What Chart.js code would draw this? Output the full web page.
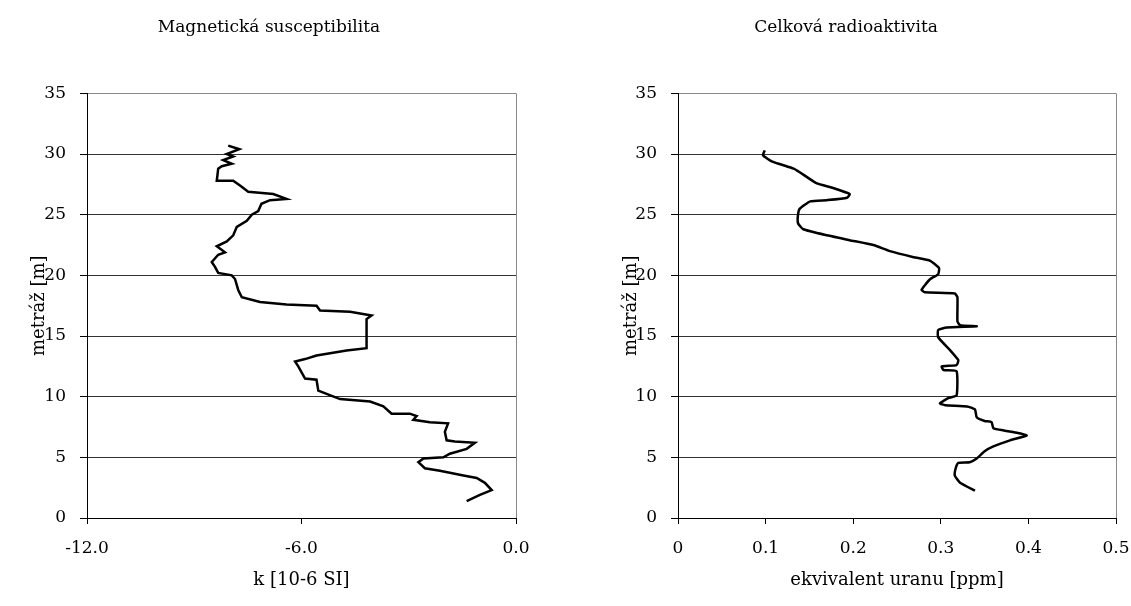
<!DOCTYPE html>
<html>
<head>
<meta charset="utf-8">
<script src="https://cdn.jsdelivr.net/npm/chart.js@4/dist/chart.umd.min.js"></script>
<style>
    html, body { margin: 0; padding: 0; background: #fff; }
    #wrap { position: relative; width: 1131px; height: 606px; }
    canvas { position: absolute; top: 0; }
    #mag-chart { left: 22px; }
    #rad-chart { left: 576px; }
</style>
</head>
<body>
<div id="wrap">
    <canvas id="mag-chart" width="516" height="606"></canvas>
    <canvas id="rad-chart" width="555" height="606"></canvas>
</div>
<script>
// Magnetic susceptibility profile
const magDepth = [1.4, 1.9, 2.3, 2.9, 3.3, 3.5, 3.9, 4.1, 4.6, 4.9, 5.0, 5.3, 5.7, 6.2, 6.3, 6.4, 7.1, 7.8, 7.9, 8.1,
    8.4, 8.6, 8.6, 9.2, 9.6, 9.8, 10.0, 10.5, 11.4, 11.5, 12.5, 12.9, 13.1, 13.4, 13.8, 14.0, 16.4, 16.7, 17.0, 17.1,
    17.5, 17.6, 17.8, 18.2, 18.8, 19.7, 20.0, 20.2, 20.7, 21.1, 21.7, 21.9, 22.4, 22.8, 23.3, 24.0, 24.5, 25.0, 25.3, 25.9,
    26.2, 26.3, 26.7, 26.9, 27.4, 27.8, 27.8, 28.8, 29.0, 29.2, 29.5, 29.8, 30.0, 30.4, 30.7];
const magK = [-1.38, -1.01, -0.68, -0.87, -1.10, -1.47, -2.13, -2.55, -2.73, -2.59, -2.03, -1.85, -1.38, -1.15, -1.71, -1.94, -1.99, -1.90, -2.41, -2.87,
    -2.78, -2.97, -3.48, -3.71, -4.08, -4.92, -5.10, -5.53, -5.58, -5.90, -6.09, -6.18, -5.90, -5.58, -4.74, -4.18, -4.18, -4.04, -4.64, -5.48,
    -5.58, -6.42, -7.16, -7.67, -7.77, -7.86, -7.95, -8.33, -8.42, -8.51, -8.33, -8.14, -8.37, -8.09, -7.91, -7.81, -7.53, -7.39, -7.21, -7.12,
    -6.88, -6.42, -6.79, -7.49, -7.72, -7.91, -8.37, -8.33, -8.23, -7.95, -8.19, -7.91, -8.09, -7.74, -8.05];

// Total radioactivity profile
const radDepth = [2.25, 2.9, 3.5, 4.1, 4.55, 4.6, 4.9, 5.5, 5.9, 6.4, 6.8, 7.0, 7.2, 7.4, 7.9, 8.0, 8.3, 8.95, 9.2, 9.3,
    9.45, 9.9, 10.1, 12.1, 12.2, 12.5, 12.6, 13.0, 13.8, 14.9, 15.5, 15.7, 15.8, 15.9, 16.2, 18.2, 18.5, 18.6, 18.8, 19.3,
    19.7, 20.1, 20.6, 21.2, 21.5, 22.0, 22.5, 22.9, 23.3, 23.8, 24.3, 25.0, 25.5, 26.1, 26.2, 26.4, 26.7, 27.2, 27.6, 28.5,
    28.8, 29.4, 29.9, 30.3];
const radU = [0.339, 0.322, 0.316, 0.317, 0.320, 0.333, 0.341, 0.350, 0.360, 0.379, 0.398, 0.388, 0.373, 0.360, 0.358, 0.350, 0.341, 0.339, 0.330, 0.305,
    0.299, 0.309, 0.318, 0.318, 0.303, 0.301, 0.318, 0.320, 0.311, 0.297, 0.297, 0.307, 0.341, 0.322, 0.319, 0.319, 0.316, 0.282, 0.278, 0.283,
    0.288, 0.297, 0.298, 0.288, 0.269, 0.242, 0.223, 0.196, 0.170, 0.143, 0.137, 0.137, 0.139, 0.151, 0.170, 0.193, 0.196, 0.177, 0.158, 0.139,
    0.132, 0.107, 0.097, 0.099];

const depthTicks = [0, 35, 5];
const magTicks = [-12, 0, 6];
const radTicks = [0, 0.5, 0.1];

const serif = 'DejaVu Serif';

const buildChart = (id, opts) => {
    const ctx = document.getElementById(id);
    if (!ctx || typeof Chart === 'undefined') return;
    const points = opts.depth.map((d, i) => ({ x: opts.values[i], y: d }));
    const [xMin, xMax, xStep] = opts.xTicks;
    const [yMin, yMax, yStep] = depthTicks;
    new Chart(ctx, {
        type: 'scatter',
        data: {
            datasets: [{
                data: points,
                showLine: true,
                borderColor: '#000',
                borderWidth: 2.5,
                pointRadius: 0,
                tension: opts.tension,
                fill: false,
            }],
        },
        options: {
            responsive: false,
            devicePixelRatio: 1,
            animation: false,
            layout: { autoPadding: false, padding: { right: opts.padRight, bottom: 0, left: 0, top: 0 } },
            plugins: {
                legend: { display: false },
                tooltip: { enabled: false },
                title: {
                    display: true,
                    text: opts.title,
                    color: '#000',
                    font: { family: serif, size: 17, weight: 'normal' },
                    padding: { top: 17, bottom: 56 },
                },
            },
            scales: {
                x: {
                    type: 'linear',
                    min: xMin,
                    max: xMax,
                    afterFit: (scale) => {
                        scale.height = 88;
                        // keep the plot edge where the reference has it
                        scale.paddingLeft = 0;
                        scale.paddingRight = 0;
                    },
                    ticks: {
                        stepSize: xStep,
                        color: '#000',
                        padding: 14,
                        maxRotation: 0,
                        font: { family: serif, size: 17 },
                        callback: opts.xFormat,
                    },
                    grid: {
                        color: (c) => (c.tick && Math.abs(c.tick.value - xMax) < 1e-9 ? '#888' : 'rgba(0,0,0,0)'),
                        tickColor: '#000',
                        tickLength: 6,
                        lineWidth: 1,
                    },
                    border: { color: '#000', width: 1 },
                    title: {
                        display: true,
                        text: opts.xTitle,
                        color: '#000',
                        font: { family: serif, size: 18 },
                        padding: { top: 0, bottom: 15 },
                    },
                },
                y: {
                    type: 'linear',
                    min: yMin,
                    max: yMax,
                    afterFit: (scale) => {
                        scale.width = opts.yWidth;
                        scale.paddingTop = 0;
                        scale.paddingBottom = 0;
                    },
                    ticks: {
                        stepSize: yStep,
                        color: '#000',
                        padding: 14,
                        font: { family: serif, size: 17 },
                    },
                    grid: {
                        color: (c) => (c.tick && c.tick.value === yMax ? '#888' : '#333'),
                        tickColor: '#000',
                        tickLength: 7,
                        lineWidth: 1,
                    },
                    border: { color: '#000', width: 1 },
                    title: {
                        display: true,
                        text: 'metráž [m]',
                        color: '#000',
                        font: { family: serif, size: 18 },
                        padding: { top: opts.yTitlePad, bottom: 0 },
                    },
                },
            },
        },
    });
};

buildChart('mag-chart', {
    title: 'Magnetická susceptibilita',
    xTitle: 'k [10-6 SI]',
    depth: magDepth,
    values: magK,
    xTicks: magTicks,
    xFormat: (v) => Number(v).toFixed(1),
    tension: 0,
    yWidth: 65,
    yTitlePad: 7,
    padRight: 22,
});

buildChart('rad-chart', {
    title: 'Celková radioaktivita',
    xTitle: 'ekvivalent uranu [ppm]',
    depth: radDepth,
    values: radU,
    xTicks: radTicks,
    xFormat: (v) => (v === 0 ? '0' : Number(v).toFixed(1)),
    tension: 0.15,
    yWidth: 102,
    yTitlePad: 45,
    padRight: 15,
});
</script>
</body>
</html>
